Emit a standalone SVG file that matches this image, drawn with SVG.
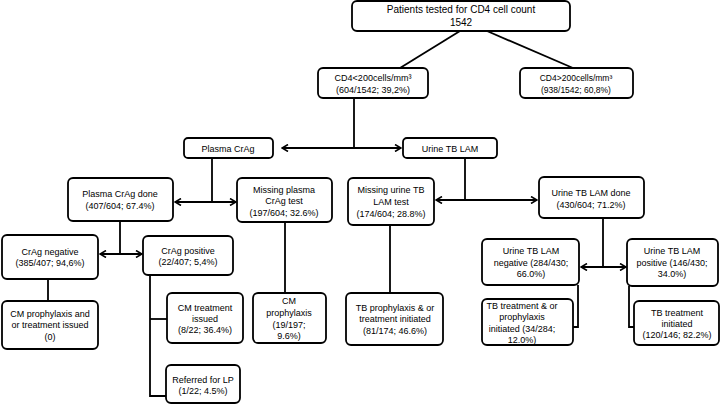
<svg xmlns="http://www.w3.org/2000/svg" width="720" height="405" viewBox="0 0 720 405">
<defs>
<marker id="ah" viewBox="0 0 8 8" refX="7" refY="4" markerWidth="8" markerHeight="8" markerUnits="userSpaceOnUse" orient="auto-start-reverse">
<path d="M1,0.5 L7,4 L1,7.5" fill="none" stroke="#000" stroke-width="1.6"/>
</marker>
<style>
rect{fill:#fff;stroke:#000;stroke-width:1.8}
text{font-family:"Liberation Sans",Arial,sans-serif;font-size:9px;fill:#000;text-anchor:middle}
.big{font-size:10px}
.c line,.c polyline{stroke:#000;stroke-width:1.8;fill:none}
</style>
</defs>
<rect x="0" y="0" width="720" height="405" style="fill:#fff;stroke:none"/>
<g class="c" id="connectors">
<line x1="460" y1="31" x2="400" y2="68"/>
<line x1="487" y1="31" x2="573" y2="68"/>
<line x1="354" y1="98" x2="354" y2="148"/>
<line x1="282" y1="148" x2="401" y2="148" marker-start="url(#ah)" marker-end="url(#ah)"/>
<line x1="212" y1="158" x2="212" y2="202"/>
<line x1="175" y1="202" x2="236" y2="202" marker-start="url(#ah)" marker-end="url(#ah)"/>
<line x1="465" y1="158" x2="465" y2="200"/>
<line x1="436" y1="200" x2="537" y2="200" marker-start="url(#ah)" marker-end="url(#ah)"/>
<line x1="120" y1="221" x2="120" y2="254"/>
<line x1="100" y1="254" x2="142" y2="254" marker-start="url(#ah)" marker-end="url(#ah)"/>
<line x1="48" y1="279" x2="48" y2="301"/>
<polyline points="150,275 150,396 166,396"/>
<line x1="150" y1="319" x2="167" y2="319"/>
<line x1="285" y1="222" x2="285" y2="293"/>
<line x1="390" y1="225" x2="390" y2="293"/>
<line x1="603" y1="218" x2="603" y2="267"/>
<line x1="581" y1="267" x2="626" y2="267" marker-start="url(#ah)" marker-end="url(#ah)"/>
<polyline points="578,285 578,327 573,327"/>
<polyline points="629,286 629,327 634,327"/>
</g>
<g id="n-top"><rect x="352" y="1" width="218" height="30" rx="5"/><text class="big" x="461" y="12.5">Patients tested for CD4 cell count</text><text class="big" x="461" y="26">1542</text></g>
<g id="n-cd4lo"><rect x="318" y="68" width="110" height="30" rx="5"/><text x="373" y="80.5">CD4&lt;200cells/mm³</text><text x="373" y="93">(604/1542; 39,2%)</text></g>
<g id="n-cd4hi"><rect x="520" y="68" width="113" height="30" rx="5"/><text x="576" y="80.5" style="font-size:8.5px">CD4&gt;200cells/mm³</text><text x="576" y="93" style="font-size:8.5px">(938/1542; 60,8%)</text></g>
<g id="n-crag"><rect x="184" y="138" width="89" height="20" rx="4"/><text x="228" y="151.5">Plasma CrAg</text></g>
<g id="n-lam"><rect x="403" y="138" width="94" height="20" rx="4"/><text x="450" y="151.5">Urine TB LAM</text></g>
<g id="n-cragdone"><rect x="68" y="178" width="105" height="43" rx="5"/><text x="120" y="197">Plasma CrAg done</text><text x="120" y="208.5">(407/604; 67.4%)</text></g>
<g id="n-missplasma"><rect x="237" y="178" width="95" height="44" rx="5"/><text x="284" y="192.5">Missing plasma</text><text x="284" y="203.5">CrAg test</text><text x="284" y="216">(197/604; 32.6%)</text></g>
<g id="n-missurine"><rect x="348" y="178" width="86" height="47" rx="5"/><text x="391" y="193">Missing urine TB</text><text x="391" y="205">LAM test</text><text x="391" y="216.5">(174/604; 28.8%)</text></g>
<g id="n-lamdone"><rect x="539" y="177" width="105" height="41" rx="5"/><text x="591" y="196">Urine TB LAM done</text><text x="591" y="207.5">(430/604; 71.2%)</text></g>
<g id="n-cragneg"><rect x="2" y="235" width="96" height="44" rx="5"/><text x="50" y="255">CrAg negative</text><text x="50" y="266">(385/407; 94,6%)</text></g>
<g id="n-cragpos"><rect x="143" y="236" width="90" height="39" rx="5"/><text x="188" y="253.5">CrAg positive</text><text x="188" y="264.5">(22/407; 5,4%)</text></g>
<g id="n-cmproph0"><rect x="2" y="301" width="96" height="48" rx="5"/><text x="50" y="316.5">CM prophylaxis and</text><text x="50" y="328">or treatment issued</text><text x="50" y="339.5">(0)</text></g>
<g id="n-cmtreat"><rect x="167" y="293" width="76" height="50" rx="5"/><text x="205" y="310.5">CM treatment</text><text x="205" y="321.5">issued</text><text x="205" y="333">(8/22; 36.4%)</text></g>
<g id="n-lp"><rect x="166" y="365" width="74" height="38" rx="5"/><text x="203" y="382.5">Referred for LP</text><text x="203" y="394">(1/22; 4.5%)</text></g>
<g id="n-cmproph"><rect x="253" y="293" width="73" height="50" rx="5"/><text x="289" y="303.5">CM</text><text x="289" y="316">prophylaxis</text><text x="289" y="327.5">(19/197;</text><text x="289" y="339">9.6%)</text></g>
<g id="n-tbproph"><rect x="346" y="293" width="97" height="52" rx="5"/><text x="395" y="310.5">TB prophylaxis &amp; or</text><text x="395" y="322">treatment  initiated</text><text x="395" y="334">(81/174; 46.6%)</text></g>
<g id="n-lamneg"><rect x="482" y="239" width="97" height="46" rx="5"/><text x="531" y="254">Urine TB LAM</text><text x="531" y="265.5">negative (284/430;</text><text x="531" y="276.5">66.0%)</text></g>
<g id="n-lampos"><rect x="627" y="239" width="91" height="47" rx="5"/><text x="672" y="254">Urine TB LAM</text><text x="672" y="265.5">positive (146/430;</text><text x="672" y="276.5">34.0%)</text></g>
<g id="n-tbtreatneg"><rect x="482" y="299" width="91" height="46" rx="5"/><text x="522" y="308.5">TB treatment &amp; or</text><text x="522" y="320">prophylaxis</text><text x="522" y="331.5">initiated (34/284;</text><text x="522" y="342.5">12.0%)</text></g>
<g id="n-tbtreatpos"><rect x="634" y="301" width="85" height="44" rx="5"/><text x="677" y="315.5">TB treatment</text><text x="677" y="326.5">initiated</text><text x="677" y="338">(120/146; 82.2%)</text></g>
</svg>
